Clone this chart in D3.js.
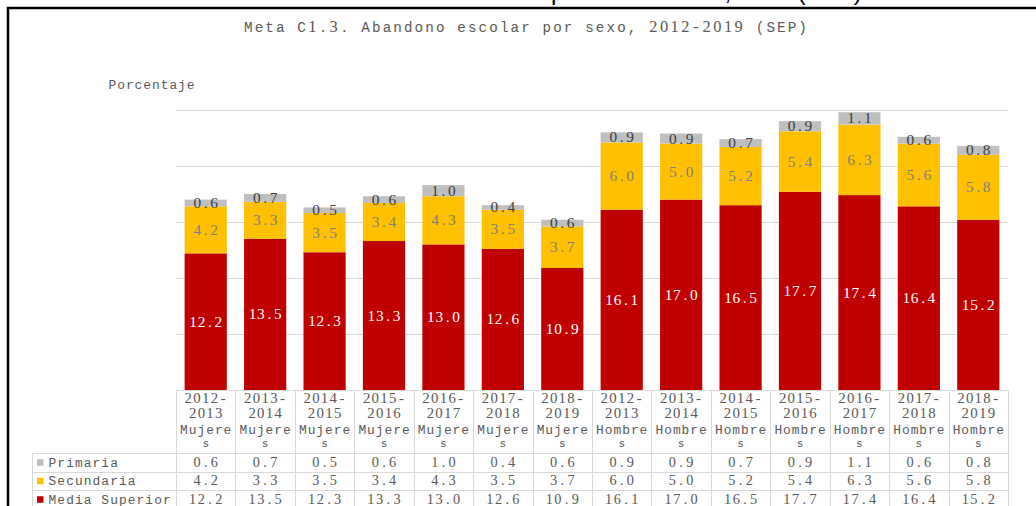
<!DOCTYPE html>
<html>
<head>
<meta charset="utf-8">
<script src="https://cdn.jsdelivr.net/npm/d3@7"></script>
<style>
  body { margin: 0; background: #fff; }
  svg { display: block; }
</style>
</head>
<body>
<div class="chart"></div>
<script>
// datos
var periodos = ['2012-2013', '2013-2014', '2014-2015', '2015-2016', '2016-2017', '2017-2018', '2018-2019'];
var sexos = ['Mujeres', 'Hombres'];
var categorias = [
	'2012-2013 Mujeres', '2013-2014 Mujeres', '2014-2015 Mujeres', '2015-2016 Mujeres',
	'2016-2017 Mujeres', '2017-2018 Mujeres', '2018-2019 Mujeres',
	'2012-2013 Hombres', '2013-2014 Hombres', '2014-2015 Hombres', '2015-2016 Hombres',
	'2016-2017 Hombres', '2017-2018 Hombres', '2018-2019 Hombres'
];
var primaria = [0.6, 0.7, 0.5, 0.6, 1.0, 0.4, 0.6, 0.9, 0.9, 0.7, 0.9, 1.1, 0.6, 0.8];
var secundaria = [4.2, 3.3, 3.5, 3.4, 4.3, 3.5, 3.7, 6.0, 5.0, 5.2, 5.4, 6.3, 5.6, 5.8];
var mediaSuperior = [12.2, 13.5, 12.3, 13.3, 13.0, 12.6, 10.9, 16.1, 17.0, 16.5, 17.7, 17.4, 16.4, 15.2];
var series = ['Media Superior', 'Secundaria', 'Primaria'];
var yTicks = [0, 5, 10, 15, 20, 25];

var chart = (function() {

	var W = 1036, H = 506;
	var colores = { 'Primaria': '#bfbfbf', 'Secundaria': '#ffc000', 'Media Superior': '#c00000' };
	var colorEtiqueta = { 'Primaria': '#404040', 'Secundaria': '#7f7f7f', 'Media Superior': '#ffffff' };
	var valores = { 'Primaria': primaria, 'Secundaria': secundaria, 'Media Superior': mediaSuperior };
	var gris = '#595959';
	var linea = '#d9d9d9';

	// texto con espaciado fijo; digitos en serif, letras en mono
	var mono = function(sel, str, x, y, adv, anchor, size) {
		var chars = str.split('');
		var start = anchor === 'middle' ? x - chars.length * adv / 2 : x;
		var t = sel.append('text')
			.attr('y', y)
			.attr('text-anchor', 'middle');
		chars.forEach(function(c, i) {
			var num = /[0-9.\-]/.test(c);
			t.append('tspan')
				.attr('x', (start + (i + 0.5) * adv).toFixed(2))
				.style('font-family', num ? '"Liberation Serif", serif' : '"Liberation Mono", monospace')
				.style('font-size', (num ? size * 1.06 : size * 0.92) + 'px')
				.text(c);
		});
		return t;
	}

	var init = function() {

		var svg = d3.select('.chart')
			.append('svg')
			.attr('width', W)
			.attr('height', H);

		// encabezado cortado arriba
		svg.append('text')
			.attr('x', 551)
			.attr('y', 0)
			.style('font-family', '"Liberation Sans", Arial, sans-serif')
			.style('font-size', '24px')
			.attr('fill', '#000')
			.text('por nivel escolar, 2019 (SEP)');

		// marco
		svg.append('path')
			.attr('d', 'M8,' + H + 'V8H' + W)
			.attr('fill', 'none')
			.attr('stroke', '#000')
			.attr('stroke-width', 2.5);

		mono(svg, 'Meta C1.3. Abandono escolar por sexo, 2012-2019 (SEP)', 243, 32, 10.66, 'start', 15.5)
			.attr('fill', gris);

		mono(svg, 'Porcentaje', 108, 89, 8.7, 'start', 14)
			.attr('fill', gris);

		var x = d3.scaleBand()
			.domain(categorias)
			.range([176, 1008])
			.paddingInner(0.29)
			.paddingOuter(0.145);

		var y = d3.scaleLinear()
			.domain([0, 25])
			.range([390, 110]);

		// rejilla
		svg.append('g')
			.selectAll('line')
			.data(yTicks)
			.enter()
				.append('line')
				.attr('x1', 176)
				.attr('x2', 1008)
				.attr('y1', function(d) { return Math.round(y(d)) + 0.5; })
				.attr('y2', function(d) { return Math.round(y(d)) + 0.5; })
				.attr('stroke', linea)
				.attr('stroke-width', 1);

		var filas = categorias.map(function(c, i) {
			var o = { cat: c };
			series.forEach(function(s) { o[s] = valores[s][i]; });
			return o;
		});

		var stack = d3.stack().keys(series)(filas);

		var capas = svg.append('g')
			.selectAll('g')
			.data(stack)
			.enter()
				.append('g')
				.attr('fill', function(d) { return colores[d.key]; });

		capas.selectAll('rect')
			.data(function(d) { return d; })
			.enter()
				.append('rect')
				.attr('x', function(d) { return x(d.data.cat); })
				.attr('width', x.bandwidth())
				.attr('y', function(d) { return y(d[1]); })
				.attr('height', function(d) { return y(d[0]) - y(d[1]); });

		// etiquetas de datos
		stack.forEach(function(capa) {
			capa.forEach(function(d) {
				var v = d[1] - d[0];
				var cy = (y(d[0]) + y(d[1])) / 2;
				mono(svg, v.toFixed(1), x(d.data.cat) + x.bandwidth() / 2, cy + 5, 8.4, 'middle', 14.5)
					.attr('fill', colorEtiqueta[capa.key]);
			});
		});

		drawTable(svg, x);
	}

	var drawTable = function(svg, x) {

		var step = x.step();
		var x1 = 1008, left = 32;
		var rowY = [453, 471.5, 490, 508.5];
		var g = svg.append('g');

		// lineas verticales de la tabla
		var bordes = categorias.map(function(c) { return x(c) - x.paddingInner() * step / 2; });
		bordes.push(x1);
		g.selectAll('line.v')
			.data(bordes)
			.enter()
				.append('line')
				.attr('x1', function(d) { return Math.round(d) + 0.5; })
				.attr('x2', function(d) { return Math.round(d) + 0.5; })
				.attr('y1', 390)
				.attr('y2', H)
				.attr('stroke', linea);

		g.append('line')
			.attr('x1', left + 0.5).attr('x2', left + 0.5)
			.attr('y1', rowY[0]).attr('y2', H)
			.attr('stroke', linea);

		g.selectAll('line.h')
			.data(rowY)
			.enter()
				.append('line')
				.attr('x1', left)
				.attr('x2', x1)
				.attr('y1', function(d) { return Math.round(d) + 0.5; })
				.attr('y2', function(d) { return Math.round(d) + 0.5; })
				.attr('stroke', linea);

		// encabezados de categoria
		categorias.forEach(function(c) {
			var partes = c.split(' ');
			var p = partes[0].split('-');
			var cx = x(c) + x.bandwidth() / 2;
			var lineas = [p[0] + '-', p[1], partes[1].slice(0, 6), partes[1].slice(6)];
			var bases = [403, 418, 433.5, 447];
			lineas.forEach(function(t, i) {
				mono(g, t, cx, bases[i], 8.7, 'middle', i === 3 ? 12 : 14)
					.attr('fill', gris);
			});
		});

		// filas con leyenda
		var orden = ['Primaria', 'Secundaria', 'Media Superior'];
		orden.forEach(function(s, r) {
			var top = rowY[r], mid = top + 9.25;
			g.append('rect')
				.attr('x', 37)
				.attr('y', mid - 3)
				.attr('width', 6.5)
				.attr('height', 6.5)
				.attr('fill', colores[s]);
			mono(g, s, 48, mid + 4.5, 8.8, 'start', 14)
				.attr('fill', gris);
			valores[s].forEach(function(v, i) {
				mono(g, v.toFixed(1), x(categorias[i]) + x.bandwidth() / 2, mid + 4.5, 8.7, 'middle', 13.5)
					.attr('fill', gris);
			});
		});
	}

	return {
		'init': init
	}

})();

chart.init();
</script>
</body>
</html>
